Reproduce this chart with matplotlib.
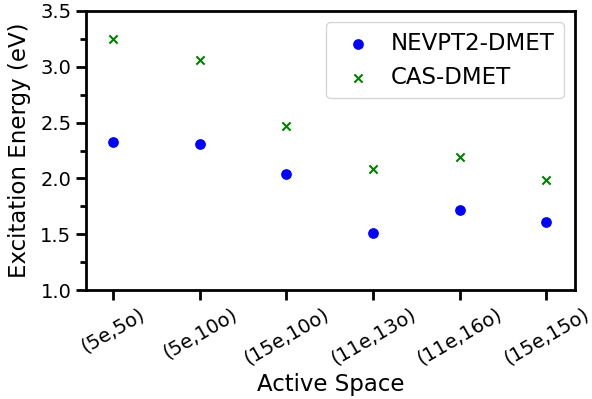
import matplotlib
matplotlib.use("Agg")
import matplotlib.pyplot as plt
from matplotlib.ticker import MultipleLocator

categories = ["(5e,5o)", "(5e,10o)", "(15e,10o)", "(11e,13o)", "(11e,16o)", "(15e,15o)"]
nevpt2_dmet = [2.33, 2.31, 2.04, 1.51, 1.72, 1.61]
cas_dmet = [3.25, 3.06, 2.47, 2.08, 2.19, 1.99]

fig = plt.figure(figsize=(5.92, 3.99), dpi=100)
ax = fig.add_axes([86/592, 1-290/399, (575-86)/592, (290-11)/399])
x = list(range(len(categories)))
ax.scatter(x, nevpt2_dmet, color="blue", marker="o", s=45, label="NEVPT2-DMET", zorder=3)
ax.scatter(x, cas_dmet, color="green", marker="x", s=35, linewidths=1.5, label="CAS-DMET", zorder=3)

ax.set_xlim(-0.31, 5.33)
ax.set_ylim(1.0, 3.5)
ax.set_xticks(x)
ax.set_xticklabels(categories, rotation=30, ha="center", fontsize=14)
ax.yaxis.set_major_locator(MultipleLocator(0.5))
ax.yaxis.set_minor_locator(MultipleLocator(0.25))
ax.tick_params(axis="both", which="major", length=7, width=2)
ax.tick_params(axis="y", which="major", labelsize=14)
ax.tick_params(axis="y", which="minor", length=4, width=2)
for s in ax.spines.values():
    s.set_linewidth(2)
ax.set_xlabel("Active Space", fontsize=16.5, labelpad=3)
ax.set_ylabel("Excitation Energy (eV)", fontsize=16.5, labelpad=7)
ax.legend(loc="upper right", fontsize=16.5, handletextpad=0.4, borderaxespad=0.5)
fig.savefig("out.png", dpi=100)
